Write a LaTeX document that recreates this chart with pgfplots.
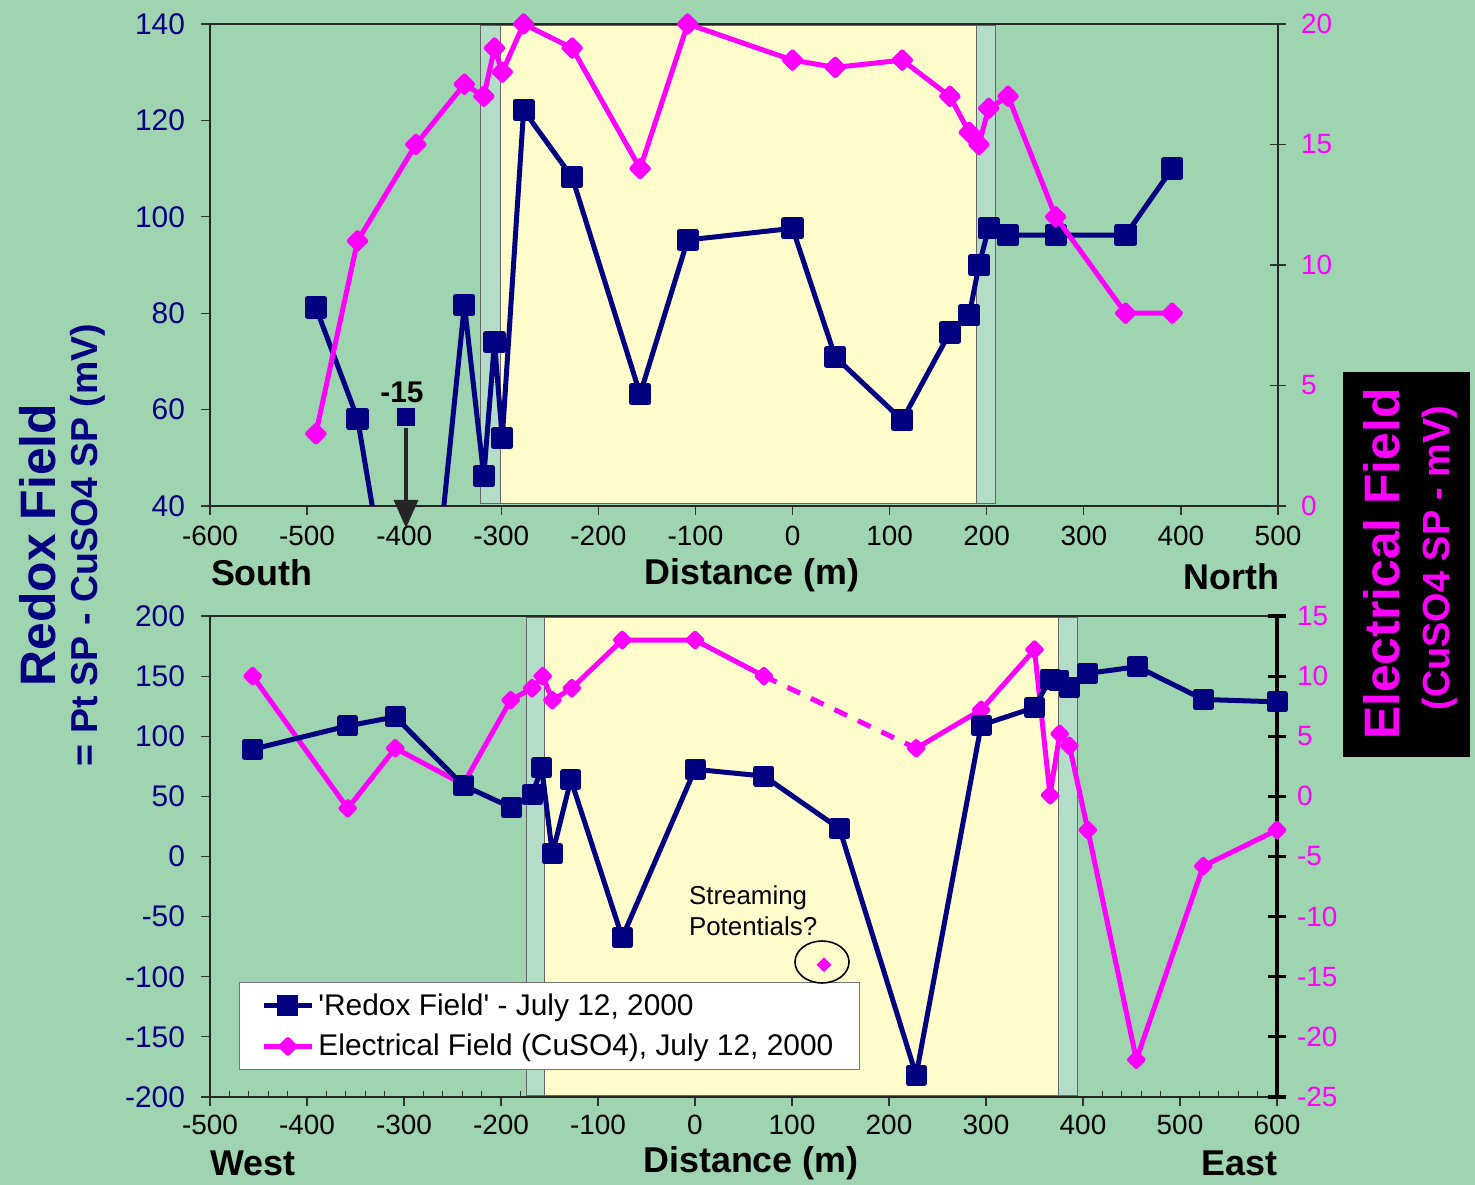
\documentclass[border=0pt]{standalone}
\usepackage{fontspec}
\setmainfont{Liberation Sans}
\usepackage{pgfplots}
\pgfplotsset{compat=1.18}
\usetikzlibrary{arrows.meta}
\definecolor{bggreen}{RGB}{159,212,176}
\definecolor{bandyellow}{RGB}{255,252,204}
\definecolor{bandteal}{RGB}{180,221,200}
\definecolor{navy}{RGB}{0,0,128}
\definecolor{magentaC}{RGB}{255,0,255}
\pgfplotsset{
  every axis/.append style={
    scale only axis,
    /pgf/number format/assume math mode=true,
    xticklabel style={font=\fontsize{14}{16}\selectfont},
    yticklabel style={font=\fontsize{15}{17}\selectfont},
  },
  redox/.style={navy, line width=2.5bp, line join=round, mark=square*, mark size=4.3bp, mark options={solid}},
  elec/.style={magentaC, line width=2.5bp, line join=round, mark=square*, mark size=2.9bp, mark options={rotate=45, solid}},
}
\begin{document}
\begin{tikzpicture}
\fill[bggreen] (0,0) rectangle (737.5bp,592.5bp);

% ---------------- TOP: left axis (Redox) ----------------
\begin{axis}[
  at={(105bp,339.5bp)}, anchor=south west,
  width=534bp, height=241bp,
  xmin=-600, xmax=500, ymin=40, ymax=140,
  xtick={-600,-500,...,500}, ytick={40,60,...,140},
  ytick pos=left, xtick pos=bottom,
  tick align=outside, major tick length=4.5bp,
  tick style={black!80, line width=0.6bp},
  axis line style={black!85, line width=0.9bp},
  yticklabel style={text=navy, xshift=-4.5bp},
  xticklabel style={yshift=-2bp},
  clip marker paths=true,
]
\fill[bandteal, draw=black!60, line width=0.5bp] (axis cs:-321,40.5) rectangle (axis cs:-301,139.6);
\fill[bandyellow, draw=black!60, line width=0.5bp] (axis cs:-301,40.5) rectangle (axis cs:189,139.6);
\fill[bandteal, draw=black!60, line width=0.5bp] (axis cs:189,40.5) rectangle (axis cs:209,139.6);
\addplot[redox] coordinates {
(-491,81.2) (-448,58.1) (-387,-15) (-338,81.7) (-318,46.2) (-307,74.0) (-299,54.1)
(-277,122.1) (-227,108.2) (-157,63.2) (-108,95.2) (0,97.6) (44,70.9) (113,57.8)
(162,76.0) (182,79.6) (192,90.0) (202,97.6) (222,96.2) (271,96.2) (343,96.2) (391,110.0)
};
\addplot[navy, only marks, mark=square*, mark size=4.3bp] coordinates {(-398,58.5)};
\end{axis}

% ---------------- TOP: right axis (Electrical) ----------------
\begin{axis}[
  at={(105bp,339.5bp)}, anchor=south west,
  width=534bp, height=241bp,
  xmin=-600, xmax=500, ymin=0, ymax=20,
  axis x line=none, axis y line*=right,
  ytick={0,5,...,20},
  tick align=center, major tick length=8bp,
  tick style={black!80, line width=0.6bp},
  axis line style={black!85, line width=0.9bp},
  yticklabel style={text=magentaC, font=\fontsize{14}{16}\selectfont, xshift=4bp},
]
\addplot[elec] coordinates {
(-491,3.0) (-448,11.0) (-388,15.0) (-338,17.5) (-318,17.0) (-307,19.0) (-299,18.0)
(-277,20.0) (-227,19.0) (-157,14.0) (-108,20.0) (0,18.5) (44,18.2) (113,18.5)
(162,17.0) (182,15.5) (192,15.0) (202,16.5) (222,17.0) (271,12.0) (343,8.0) (391,8.0)
};
\end{axis}

% ---------------- BOTTOM: left axis (Redox) frame + bands ----------------
\begin{axis}[
  at={(105bp,44bp)}, anchor=south west,
  width=533.5bp, height=240.5bp,
  xmin=-500, xmax=600, ymin=-200, ymax=200,
  xtick={-500,-400,...,600}, minor x tick num=4,
  ytick={-200,-150,...,200},
  ytick pos=left, xtick pos=bottom,
  tick align=outside, major tick length=4.5bp, minor tick length=3bp,
  every minor tick/.append style={yshift=3bp},
  tick style={black!80, line width=0.6bp},
  axis line style={black!85, line width=0.9bp},
  yticklabel style={text=navy, xshift=-4.5bp},
  xticklabel style={yshift=-1bp},
]
\fill[bandteal, draw=black!60, line width=0.5bp] (axis cs:-174,-199) rectangle (axis cs:-155,198.5);
\fill[bandyellow, draw=black!60, line width=0.5bp] (axis cs:-155,-199) rectangle (axis cs:375,198.5);
\fill[bandteal, draw=black!60, line width=0.5bp] (axis cs:375,-199) rectangle (axis cs:394,198.5);
\end{axis}

% ---------------- BOTTOM: right axis (Electrical) ----------------
\begin{axis}[
  at={(105bp,44bp)}, anchor=south west,
  width=533.5bp, height=240.5bp,
  xmin=-500, xmax=600, ymin=-25, ymax=15,
  axis x line=none, axis y line*=right,
  ytick={-25,-20,...,15},
  tick align=center, major tick length=9bp,
  tick style={black, line width=1.6bp},
  axis line style={black, line width=1.6bp},
  yticklabel style={text=magentaC, font=\fontsize{14}{16}\selectfont, xshift=2bp},
  legend style={at={(0.0272,0.239)}, anchor=north west, draw=black!55, fill=white,
    font=\fontsize{15}{17}\selectfont, row sep=4bp, inner xsep=11bp, inner ysep=3.5bp,
    nodes={inner xsep=2bp}, cells={anchor=west}},
  legend image code/.code={\draw[mark repeat=2,mark phase=2,#1] plot coordinates {(0bp,0bp) (12bp,0bp) (24bp,0bp)};},
]
\addlegendimage{navy, line width=2.5bp, mark=square*, mark size=4bp}
\addlegendentry{\textquotesingle Redox Field\textquotesingle\ - July 12, 2000}
\addplot[magentaC, line width=2.5bp, line join=round, mark=square*, mark size=2.4bp, mark options={rotate=45, solid}] coordinates {
(-456,10) (-358,-1) (-309,4) (-239,1) (-190,8) (-168,9) (-157,10) (-147,8) (-127,9)
(-75,13) (0,13) (71,10)
};
\addlegendentry{Electrical Field (CuSO4), July 12, 2000}
\addplot[magentaC, line width=2.5bp, dash pattern=on 7bp off 6bp, forget plot] coordinates {(71,10) (228,4)};
\addplot[magentaC, line width=2.5bp, line join=round, mark=square*, mark size=2.4bp, mark options={rotate=45, solid}, forget plot] coordinates {
(228,4) (295,7.2) (350,12.2) (366,0.1) (376,5.2) (386,4.2) (405,-2.8) (455,-21.9) (524,-5.8) (600,-2.8)
};
\addplot[magentaC, only marks, mark=square*, mark size=2.4bp, mark options={rotate=45}, forget plot] coordinates {(133,-14)};
\end{axis}

% ---------------- BOTTOM: Redox series ----------------
\begin{axis}[
  at={(105bp,44bp)}, anchor=south west,
  width=533.5bp, height=240.5bp,
  xmin=-500, xmax=600, ymin=-200, ymax=200,
  hide axis,
]
\addplot[redox, mark size=4bp] coordinates {
(-456,89.2) (-358,108.6) (-309,116.1) (-239,59.2) (-189,40.6) (-168,51.4) (-158,73.6)
(-147,2.2) (-128,63.9) (-75,-67.3) (0,72.5) (71,66.9) (149,23.1) (228,-181.9)
(295,109.2) (350,123.9) (366,147.5) (375,146.7) (386,140.3) (405,152.3) (456,157.8)
(524,130.6) (600,128.6)
};
\end{axis}

% ---------------- Annotations ----------------
\node[font=\fontsize{15}{15}\selectfont\bfseries] at (201bp,396.5bp) {-15};
\draw[line width=1.6bp, black!85, -{Triangle[length=14bp,width=12bp]}] (203bp,378.5bp) -- (203bp,328.5bp);
\node[font=\fontsize{13}{15.5}\selectfont, anchor=west, align=left] at (341bp,137bp) {Streaming\\Potentials?};
\draw[black, line width=0.8bp] (411bp,111.5bp) ellipse (13.5bp and 10.5bp);

% axis descriptions
\node[font=\fontsize{18}{18}\selectfont\bfseries, anchor=west] at (102bp,306bp) {South};
\node[font=\fontsize{18}{18}\selectfont\bfseries] at (376bp,305bp) {Distance (m)};
\node[font=\fontsize{18}{18}\selectfont\bfseries, anchor=east] at (643bp,304bp) {North};
\node[font=\fontsize{18}{18}\selectfont\bfseries, anchor=west] at (101.5bp,11bp) {West};
\node[font=\fontsize{18}{18}\selectfont\bfseries] at (375.5bp,11bp) {Distance (m)};
\node[font=\fontsize{18}{18}\selectfont\bfseries, anchor=east] at (642bp,11bp) {East};

\node[rotate=90, text=navy, font=\fontsize{25}{25}\selectfont\bfseries] at (19bp,320bp) {Redox Field};
\node[rotate=90, text=navy, font=\fontsize{18.8}{19}\selectfont\bfseries] at (44bp,320bp) {= Pt SP - CuSO4 SP (mV)};

\fill[black] (671.5bp,214bp) rectangle (735bp,406.5bp);
\node[rotate=90, text=magentaC, font=\fontsize{25}{25}\selectfont\bfseries] at (691bp,310.5bp) {Electrical Field};
\node[rotate=90, text=magentaC, font=\fontsize{19}{19}\selectfont\bfseries] at (720bp,313.5bp) {(CuSO4 SP - mV)};

\pgfresetboundingbox
\useasboundingbox (0,0) rectangle (737.5bp,592.5bp);
\end{tikzpicture}
\end{document}
